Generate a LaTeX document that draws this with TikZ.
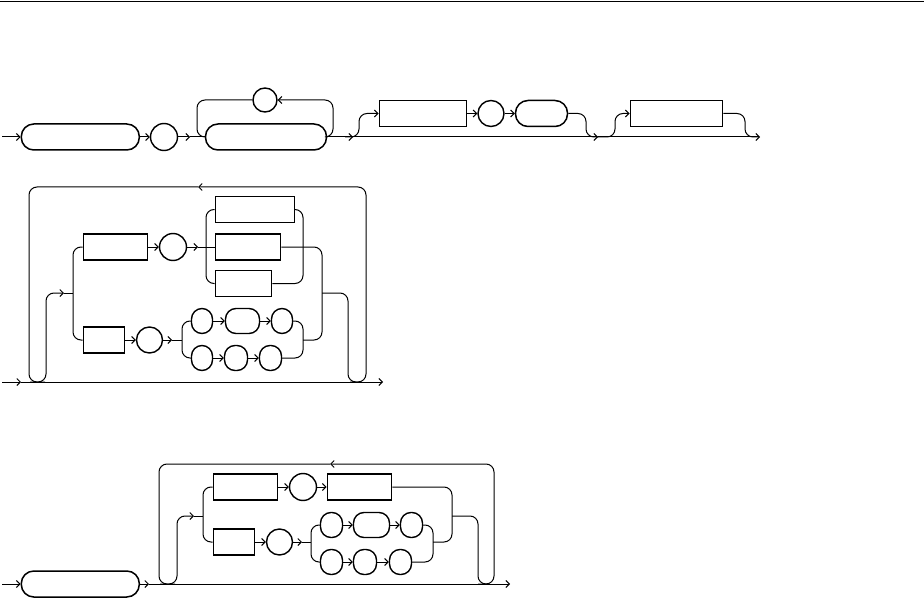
\documentclass[tikz,border=0pt]{standalone}
\usetikzlibrary{arrows.meta}
\begin{document}
\begin{tikzpicture}[x=1pt,y=-1pt,
 ln/.style={line width=1pt},
 arr/.style={line width=1pt,-{Straight Barb[length=3.5pt,width=7pt]}},
 rc/.style={line width=1pt,rounded corners=8pt},
 nt/.style={draw,rectangle,line width=1.8pt,inner sep=0pt,minimum width=#1,minimum height=26pt},
 tm/.style={draw,rectangle,rounded corners=12.5pt,line width=1.5pt,inner sep=0pt,minimum width=#1,minimum height=26pt},
 ov/.style={draw,rectangle,rounded corners=10.5pt,line width=1.4pt,inner sep=0pt,minimum width=#1,minimum height=25pt},
 ci/.style={draw,circle,line width=1.4pt,inner sep=0pt,minimum size=#1}]
\useasboundingbox (0,0) rectangle (924,599);
\draw[line width=1.3pt] (0,1.5) coordinate (t0) -- (924,1.5) coordinate (t1);

% ---------- diagram 1 ----------
\coordinate (s1) at (2,137);
\coordinate (e1) at (760,137);
\node[tm=118] (n1) at (80.3,137) {};
\node[ci=27] (c1) at (164,137) {};
\node[tm=121] (n2) at (266,137) {};
\node[ci=24] (c2) at (265,100) {};
\node[nt=87] (r1) at (423,113.5) {};
\node[ci=26] (c3) at (491,113.5) {};
\node[tm=52] (s3) at (541.5,113.5) {};
\node[nt=92] (r2) at (676.5,113.5) {};
\coordinate (j1) at (353,137);
\coordinate (j2) at (598,137);
\draw[arr] (s1) -- (n1.west);
\draw[arr] (n1.east) -- (c1.west);
\draw[arr] (c1.east) -- (190,137);
\draw[ln] (190,137) -- (n2.west);
\draw[rc] (c2.west) -- (197,100) -- (197,137) -- (n2.west);
\draw[rc,arr] (n2.east) -- (333,137) -- (333,100) -- (c2.east);
\draw[arr] (n2.east) -- (j1);
\draw[arr] (j1) -- (j2);
\draw[arr] (j2) -- (e1);
\draw[rc,arr] (345,137) -- (359,137) -- (359,113.5) -- (r1.west);
\draw[arr] (r1.east) -- (c3.west);
\draw[arr] (c3.east) -- (s3.west);
\draw[rc] (s3.east) -- (586,113.5) -- (586,137) -- (j2);
\draw[rc,arr] (j2) -- (615,137) -- (615,113.5) -- (r2.west);
\draw[rc] (r2.east) -- (745,113.5) -- (745,137) -- (758,137);

% ---------- diagram 2 ----------
\coordinate (s2) at (2,382);
\coordinate (e2) at (383,382);
\node[nt=64] (A) at (115.5,247) {};
\node[ci=27] (cA) at (173,247) {};
\node[nt=79] (B1) at (255,209.5) {};
\node[nt=65] (B2) at (248,247) {};
\node[nt=56] (B3) at (243.5,283.5) {};
\node[nt=41] (C) at (104,340) {};
\node[ci=26] (cC) at (149.5,340) {};
\node[ov=21] (u1) at (202,321) {};
\node[ov=34] (u2) at (242.5,321) {};
\node[ov=21] (u3) at (282,321) {};
\node[ov=21] (l1) at (202,358) {};
\node[ov=23] (l2) at (236,358) {};
\node[ov=22] (l3) at (270.5,358) {};
\draw[arr] (s2) -- (21,382);
\draw[arr] (21,382) -- (e2);
% loop back
\draw[rc,arr] (350,382) -- (366,382) -- (366,187) -- (198,187);
\draw[rc] (198,187) -- (29,187) -- (29,382) -- (45,382);
% forward in
\draw[rc,arr] (30,382) -- (46,382) -- (46,293) -- (64,293);
\draw[ln] (64,293) -- (73,293);
\draw[rc] (A.west) -- (73,247) -- (73,340) -- (C.west);
% top branch
\draw[arr] (A.east) -- (cA.west);
\draw[arr] (cA.east) -- (198,247);
\draw[ln] (198,247) -- (B2.west);
\draw[rc] (B1.west) -- (206,209.5) -- (206,283.5) -- (B3.west);
\draw[rc] (B1.east) -- (303,209.5) -- (303,283.5) -- (B3.east);
\draw[rc] (B2.east) -- (322,247) -- (322,340) -- (303,340);
% bottom branch
\draw[arr] (C.east) -- (cC.west);
\draw[arr] (cC.east) -- (172,340);
\draw[ln] (172,340) -- (182,340);
\draw[rc] (u1.west) -- (182,321) -- (182,358) -- (l1.west);
\draw[arr] (u1.east) -- (u2.west);
\draw[arr] (u2.east) -- (u3.west);
\draw[arr] (l1.east) -- (l2.west);
\draw[arr] (l2.east) -- (l3.west);
\draw[rc] (u3.east) -- (303,321) -- (303,358) -- (l3.east);
% out
\draw[rc] (322,293) -- (348,293) -- (348,382) -- (360,382);

% ---------- diagram 3 ----------
\coordinate (s3a) at (2,584);
\coordinate (e3) at (510,584);
\node[tm=118] (G) at (80.3,584) {};
\node[nt=64] (D) at (245.5,487) {};
\node[ci=27] (cD) at (303,487) {};
\node[nt=64] (E) at (359.5,487) {};
\node[nt=41] (F) at (234,542) {};
\node[ci=26] (cF) at (279.5,542) {};
\node[ov=22] (v1) at (331.5,525) {};
\node[ov=36] (v2) at (371.5,525) {};
\node[ov=22] (v3) at (411.5,525) {};
\node[ov=22] (w1) at (331.5,562) {};
\node[ov=23] (w2) at (365,562) {};
\node[ov=22] (w3) at (400.5,562) {};
\draw[arr] (s3a) -- (G.west);
\draw[arr] (G.east) -- (149,584);
\draw[arr] (149,584) -- (e3);
% loop back
\draw[rc,arr] (478,584) -- (494,584) -- (494,464) -- (330,464);
\draw[rc] (330,464) -- (159,464) -- (159,584) -- (175,584);
% forward in
\draw[rc,arr] (160,584) -- (177,584) -- (177,516) -- (194,516);
\draw[ln] (194,516) -- (203,516);
\draw[rc] (D.west) -- (203,487) -- (203,542) -- (F.west);
% top branch
\draw[arr] (D.east) -- (cD.west);
\draw[arr] (cD.east) -- (E.west);
\draw[rc] (E.east) -- (452,487) -- (452,542) -- (433,542);
% bottom branch
\draw[arr] (F.east) -- (cF.west);
\draw[arr] (cF.east) -- (302,542);
\draw[ln] (302,542) -- (311,542);
\draw[rc] (v1.west) -- (311,525) -- (311,562) -- (w1.west);
\draw[arr] (v1.east) -- (v2.west);
\draw[arr] (v2.east) -- (v3.west);
\draw[arr] (w1.east) -- (w2.west);
\draw[arr] (w2.east) -- (w3.west);
\draw[rc] (v3.east) -- (433,525) -- (433,562) -- (w3.east);
% out
\draw[rc] (452,516) -- (478,516) -- (478,584) -- (488,584);
\end{tikzpicture}
\end{document}
